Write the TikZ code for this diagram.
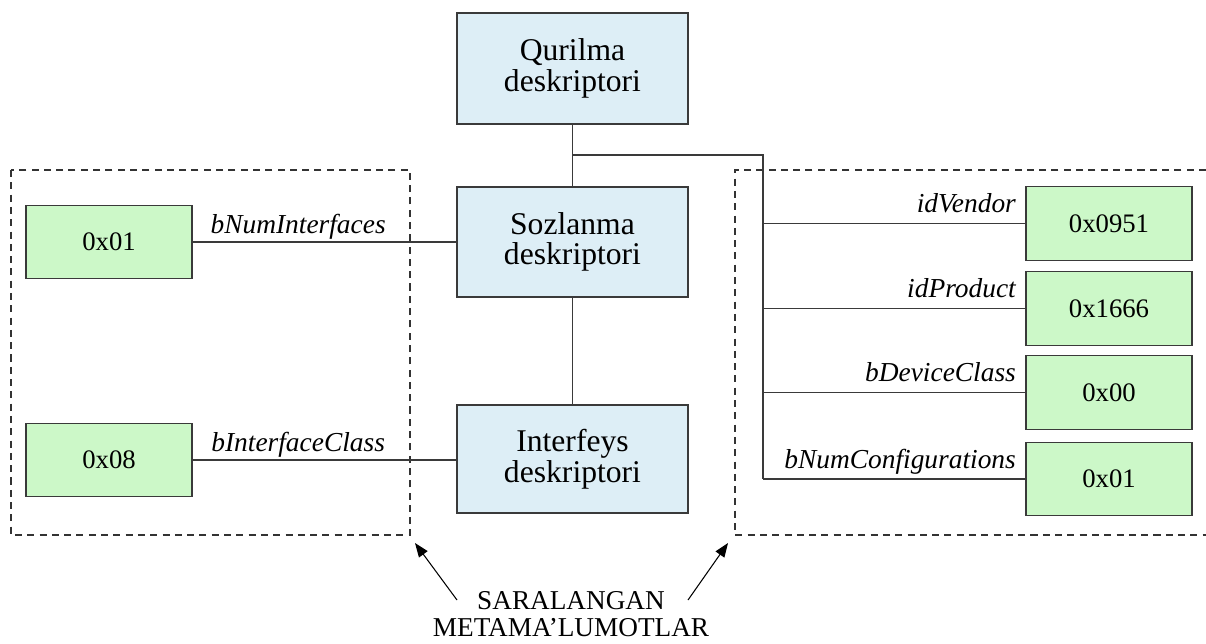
\documentclass[tikz,border=0pt]{standalone}
\usepackage{fontspec}
\setmainfont{Liberation Serif}
\usetikzlibrary{arrows.meta,calc}
\definecolor{descblue}{HTML}{DDEEF6}
\definecolor{valgreen}{HTML}{CCF8C8}
\definecolor{edge}{HTML}{3A3A3A}
\begin{document}
\begin{tikzpicture}[x=0.02cm,y=-0.02cm,
  desc/.style={draw=edge,line width=0.8pt,fill=descblue,minimum width=4.62cm,
    align=center,inner sep=0pt,font=\fontsize{18}{17.5}\selectfont},
  val/.style={draw=edge,line width=0.8pt,fill=valgreen,minimum width=3.32cm,
    minimum height=1.47cm,inner sep=0pt,font=\fontsize{15.2}{18}\selectfont},
  wire/.style={draw=edge,line width=0.8pt},
  fieldname/.style={font=\fontsize{15.6}{18}\itshape\selectfont,inner sep=0pt},
  group/.style={draw=black!80,line width=0.6pt,dash pattern=on 4pt off 3pt},
  pointer/.style={draw=black,line width=0.6pt,-{Triangle[length=8pt,width=6pt]}}]
\useasboundingbox (0,0) rectangle (1206,643);

% descriptor boxes
\node[desc,minimum height=2.22cm] (qur) at (572.5,68.5) {Qurilma\\deskriptori};
\node[desc,minimum height=2.2cm] (soz) at (572.5,242) {Sozlanma\\deskriptori};
\node[desc,minimum height=2.16cm] (int) at (572.5,459) {Interfeys\\deskriptori};

% value boxes
\node[val] (v01) at (109,242) {0x01};
\node[val] (v08) at (109,460) {0x08};
\node[val] (vven) at (1109,223.5) {0x0951};
\node[val] (vprod) at (1109,308.5) {0x1666};
\node[val] (vcls) at (1109,392.5) {0x00};
\node[val] (vcfg) at (1109,479) {0x01};

% grouping frames
\draw[group] (11,170) rectangle (410,535);
\draw[group] (1206,170) -- (735,170) -- (735,535) -- (1206,535);

% tree of descriptors
\coordinate (junc) at (572.5,155);
\coordinate (trunk) at (763,155);
\draw[wire] (qur.south) -- (soz.north);
\draw[wire] (soz.south) -- (int.north);
\draw[wire] (junc) -- (trunk) -- (trunk |- vcfg.west);

% device descriptor fields
\draw[wire] (trunk |- vven.west) -- (vven.west)
  node[fieldname,pos=1,anchor=base east,xshift=-5pt,yshift=6pt] {idVendor};
\draw[wire] (trunk |- vprod.west) -- (vprod.west)
  node[fieldname,pos=1,anchor=base east,xshift=-5pt,yshift=6pt] {idProduct};
\draw[wire] (trunk |- vcls.west) -- (vcls.west)
  node[fieldname,pos=1,anchor=base east,xshift=-5pt,yshift=6pt] {bDeviceClass};
\draw[wire] (trunk |- vcfg.west) -- (vcfg.west)
  node[fieldname,pos=1,anchor=base east,xshift=-5pt,yshift=6pt] {bNumConfigurations};

% configuration and interface fields
\draw[wire] (v01.east) -- (soz.west |- v01.east)
  node[fieldname,pos=0.40,anchor=base,yshift=5pt] {bNumInterfaces};
\draw[wire] (v08.east) -- (int.west |- v08.east)
  node[fieldname,pos=0.40,anchor=base,yshift=5pt] {bInterfaceClass};

% caption with pointers
\node[align=center,inner sep=0pt,font=\fontsize{15.5}{15.5}\selectfont] (cap) at (571,614)
  {SARALANGAN\\METAMA’LUMOTLAR};
\coordinate (lt) at (415,543);
\coordinate (rt) at (728,543);
\draw[pointer] (457,600) -- (lt);
\draw[pointer] (688,600) -- (rt);
\end{tikzpicture}
\end{document}
